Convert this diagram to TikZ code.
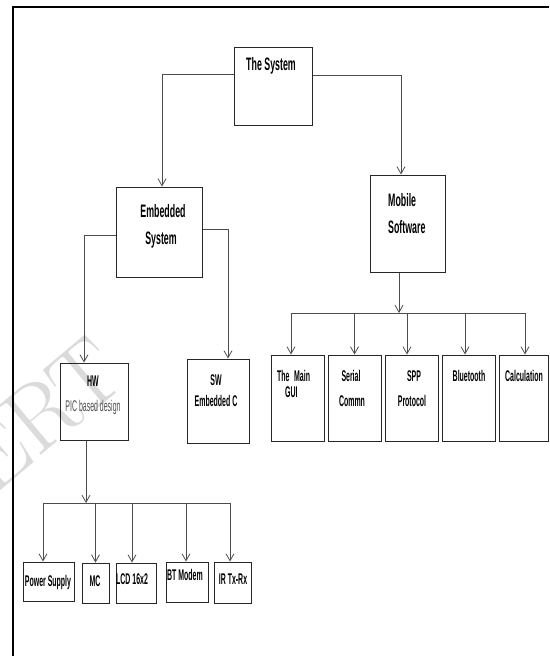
\documentclass[tikz,border=0pt]{standalone}
\usepackage{fontspec}
\usetikzlibrary{arrows.meta,calc}
\newfontfamily\narA[FakeStretch=0.49]{Liberation Sans}
\newfontfamily\narB[FakeStretch=0.45]{Liberation Sans}
\begin{document}
\begin{tikzpicture}[x=1pt,y=-1pt,
  box/.style={draw=black!85, line width=1pt, inner sep=0pt, minimum width=#1},
  line/.style={draw=black!70, line width=0.8pt},
  arr/.style={line, -{Straight Barb[length=7pt,width=8pt]}},
  ttop/.style={inner sep=0pt, text height=13pt, text depth=0pt, font=\fontsize{18}{18}\selectfont\narA\bfseries},
  tlow/.style={inner sep=0pt, text height=11pt, text depth=0pt, font=\fontsize{15.5}{15.5}\selectfont\narB\bfseries},
  treg/.style={inner sep=0pt, text height=11pt, text depth=0pt, text=black!70, font=\fontsize{15.5}{15.5}\selectfont\narB},
  wm/.style={inner sep=0pt, text=gray!28, font=\fontsize{95}{95}\selectfont}
]
\useasboundingbox (0,0) rectangle (549,656);
% watermark
\node[wm, rotate=40, anchor=east] (wmk) at (110,357) {IJERT};
% frame
\draw[line width=2.2pt, black] (13,656) -- (13,7) -- (549,7);
% boxes
\node[box=78pt, minimum height=78pt, fill=white, fill opacity=0] (sys) at (273,86) {};
\node[box=86pt, minimum height=90pt] (emb) at (159,232) {};
\node[box=75pt, minimum height=97pt] (mob) at (407.5,223.5) {};
\node[box=68pt, minimum height=77pt] (hw) at (94,401.5) {};
\node[box=62pt, minimum height=84pt] (sw) at (218,401) {};
\node[box=53pt, minimum height=86pt] (gui) at (297.5,398) {};
\node[box=53pt, minimum height=86pt] (ser) at (354.5,398) {};
\node[box=53pt, minimum height=86pt] (spp) at (411.5,398) {};
\node[box=53pt, minimum height=86pt] (blu) at (468.5,398) {};
\node[box=49pt, minimum height=86pt] (cal) at (523.5,398) {};
\node[box=51pt, minimum height=39pt] (ps) at (48.5,581.5) {};
\node[box=27pt, minimum height=40pt] (mc) at (95.5,583) {};
\node[box=40pt, minimum height=40pt] (lcd) at (136,583) {};
\node[box=42pt, minimum height=40pt] (bt) at (187,582) {};
\node[box=37pt, minimum height=41pt] (ir) at (232.5,582.5) {};
% texts
\node[ttop] (tsys) at (271,64) {The System};
\node[ttop] (temb1) at (163,211) {Embedded};
\node[ttop] (temb2) at (161,238) {System};
\node[ttop, anchor=west] (tmob1) at (388,200) {Mobile};
\node[ttop, anchor=west] (tmob2) at (388,227) {Software};
\node[tlow] (thw) at (93,381) {HW};
\node[treg] (thw2) at (93,406) {PIC based design};
\node[tlow] (tsw) at (216,380) {SW};
\node[tlow] (tsw2) at (216,401) {Embedded C};
\node[tlow, anchor=west] (tgui1) at (277,376) {The \,Main};
\node[tlow, anchor=west] (tgui2) at (285,392) {GUI};
\node[tlow] (tser1) at (351,376) {Serial};
\node[tlow] (tser2) at (352,401) {Commn};
\node[tlow] (tspp1) at (414,376) {SPP};
\node[tlow] (tspp2) at (412,401) {Protocol};
\node[tlow] (tblu) at (469,376) {Bluetooth};
\node[tlow] (tcal) at (524,376) {Calculation};
\node[tlow] (tps) at (48,581) {Power Supply};
\node[tlow] (tmc) at (95,581) {MC};
\node[tlow] (tlcd) at (132,579) {LCD 16x2};
\node[tlow] (tbt) at (185,575) {BT Modem};
\node[tlow] (tir) at (233,579) {IR Tx-Rx};
% connectors
\draw[arr] ([yshift=12pt]sys.west) -| ([xshift=3pt]emb.north);
\draw[arr] ([yshift=11pt]sys.east) -| ([xshift=-6.5pt]mob.north);
\draw[arr] ([yshift=-3pt]emb.west) -| ([xshift=-10pt]hw.north);
\draw[arr] ([yshift=3pt]emb.east) -| ([xshift=10pt]sw.north);
% mobile software bar
\coordinate (mj) at (399,313);
\coordinate (mbl) at (291,313);
\coordinate (mbr) at (525,313);
\draw[arr] ([xshift=-8.5pt]mob.south) -- (mj);
\draw[line] (mbl) -- (mbr);
\draw[arr] (mbl) -- ([xshift=-6.5pt]gui.north);
\draw[arr] (ser.north |- mbl) -- (ser.north);
\draw[arr] ([xshift=-4.5pt]spp.north |- mbl) -- ([xshift=-4.5pt]spp.north);
\draw[arr] ([xshift=-3.5pt]blu.north |- mbl) -- ([xshift=-3.5pt]blu.north);
\draw[arr] (mbr) -- ([xshift=1.5pt]cal.north);
% hardware bar
\coordinate (hj) at (86,503);
\coordinate (hbl) at (43,503);
\coordinate (hbr) at (230,503);
\draw[arr] ([xshift=-8pt]hw.south) -- (hj);
\draw[line] (hbl) -- (hbr);
\draw[arr] (hbl) -- ([xshift=-5.5pt]ps.north);
\draw[arr] (mc.north |- hbl) -- (mc.north);
\draw[arr] ([xshift=-4pt]lcd.north |- hbl) -- ([xshift=-4pt]lcd.north);
\draw[arr] ([xshift=-1pt]bt.north |- hbl) -- ([xshift=-1pt]bt.north);
\draw[arr] (hbr) -- ([xshift=-2.5pt]ir.north);
\end{tikzpicture}
\end{document}
